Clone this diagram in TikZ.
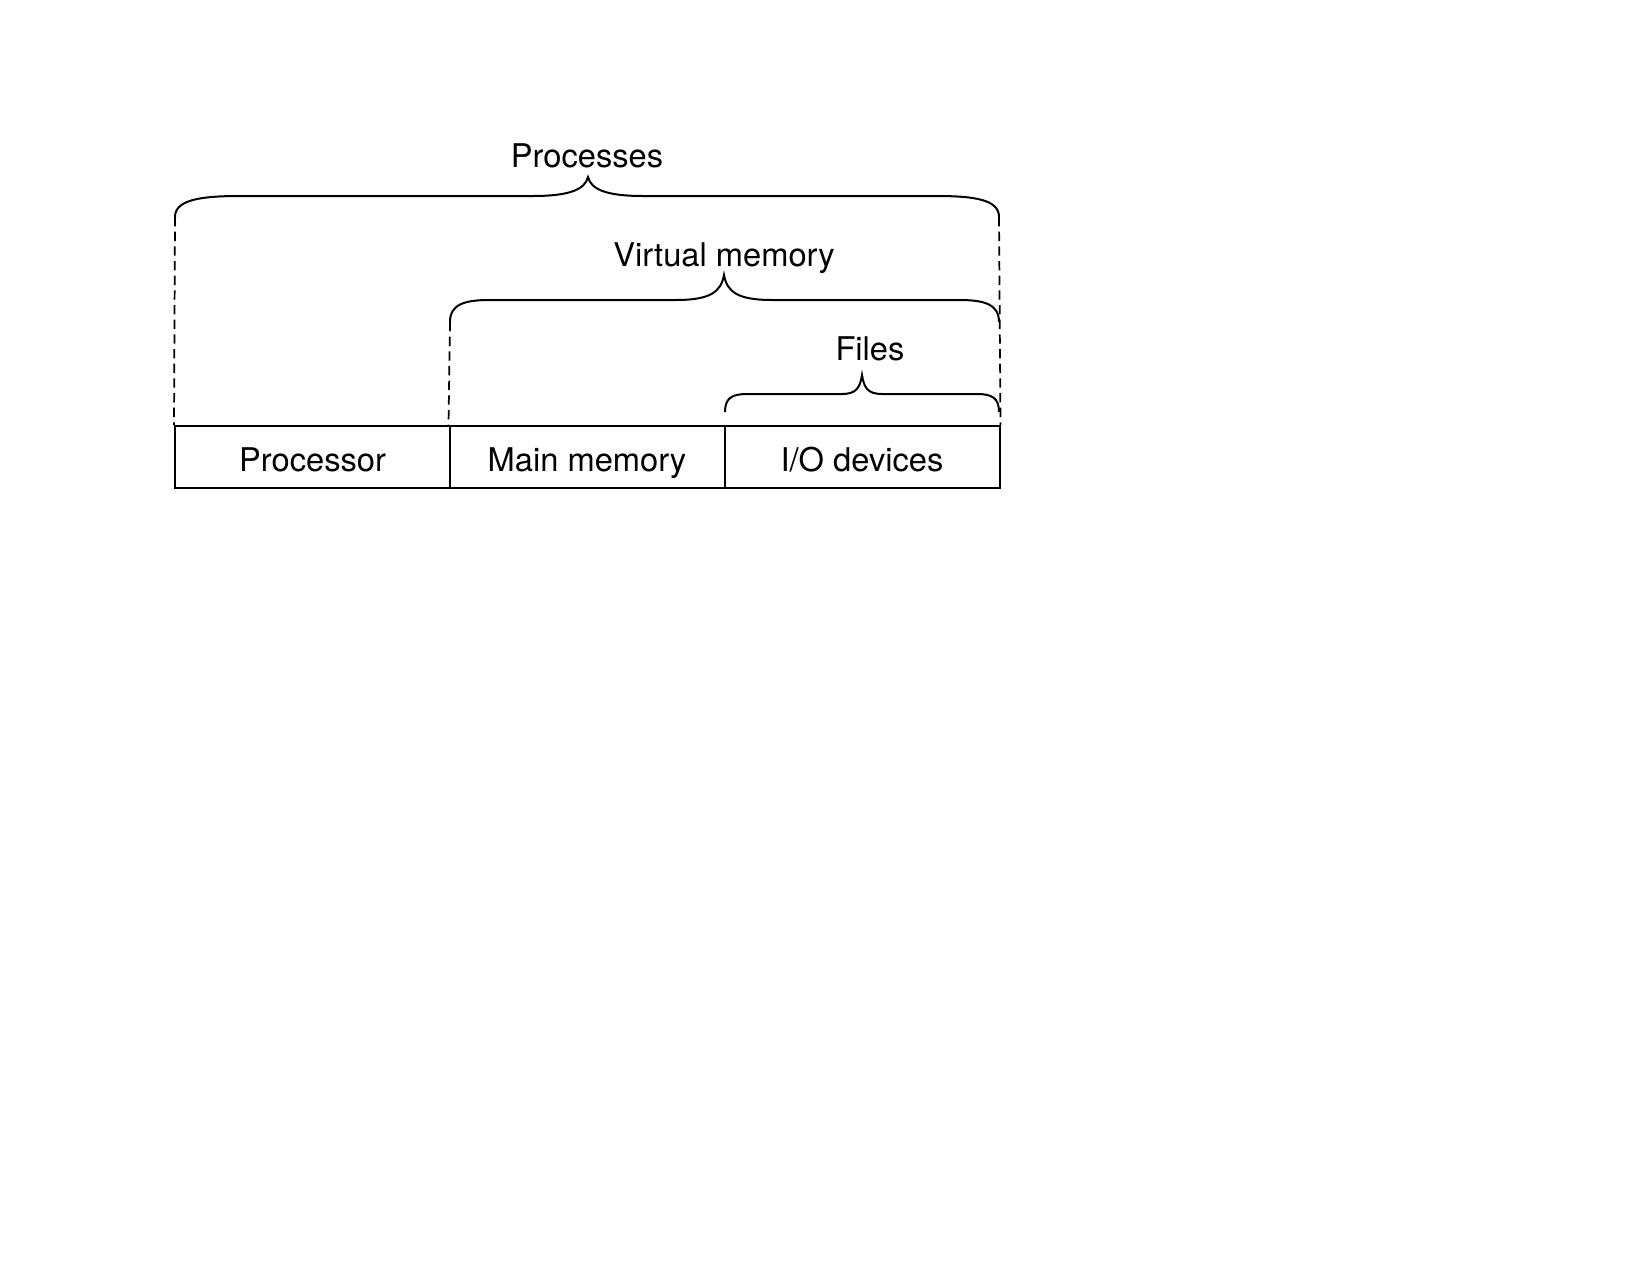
\documentclass[tikz,border=0pt]{standalone}
\usepackage{fontspec}
\setmainfont{TeX Gyre Heros}
\begin{document}
\begin{tikzpicture}[x=0.75pt,y=-0.75pt,
  line width=1.5pt, line cap=butt,
  cell/.style={draw, minimum width=206.25pt, minimum height=46.5pt, inner sep=0pt,
     text height=21pt, text depth=0pt, font=\fontsize{24.5pt}{28pt}\selectfont},
  lbl/.style={anchor=base, inner sep=0pt, font=\fontsize{24.5pt}{28pt}\selectfont},
  dash line/.style={dash pattern=on 7pt off 4pt, line width=1.3pt}]
\useasboundingbox (0,0) rectangle (1650,1275);
\node[cell] (proc) at (312.5,457) {Processor};
\node[cell] (mem) at (587,457) {Main memory};
\node[cell] (io) at (862,457) {I/O devices};
\node[lbl] (tproc) at (587,167) {Processes};
\node[lbl] (tvm) at (724,266) {Virtual memory};
\node[lbl] (tfiles) at (870,360) {Files};
% braces
\draw (175,217) .. controls (175,200) and (200,196) .. (240,196) -- (533,196)
  .. controls (568,196) and (585,190) .. (588,177)
  .. controls (591,190) and (608,196) .. (643,196) -- (936,196)
  .. controls (976,196) and (999,200) .. (999,217);
\draw (450,322) .. controls (450,304) and (465,300) .. (490,300) -- (676,300)
  .. controls (710,300) and (721,292) .. (724,275)
  .. controls (727,292) and (738,300) .. (772,300) -- (959,300)
  .. controls (984,300) and (999,304) .. (999,322);
\draw (725,412) .. controls (725,398) and (732,394) .. (747,394) -- (842,394)
  .. controls (856,394) and (860,388) .. (862,375)
  .. controls (864,388) and (868,394) .. (882,394) -- (977,394)
  .. controls (992,394) and (999,398) .. (999,412);
% dashed guides
\coordinate (pl) at (175,217);
\coordinate (pr) at (999,217);
\coordinate (vl) at (450,322);
\draw[dash line] (pl) -- (proc.north west);
\draw[dash line] (pr) -- (io.north east);
\draw[dash line] (vl) -- (mem.north west);
\end{tikzpicture}
\end{document}
